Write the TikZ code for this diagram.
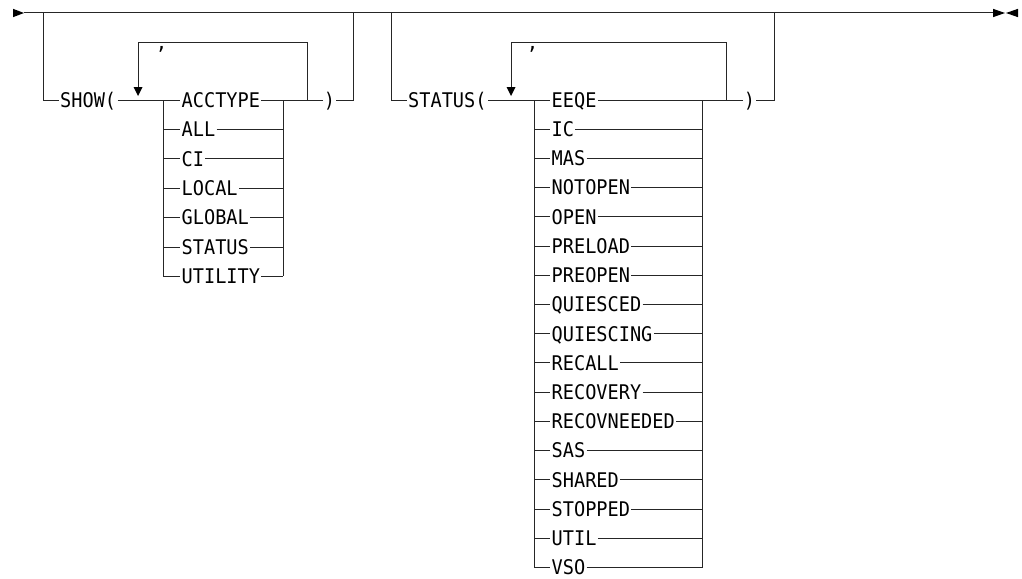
\documentclass[tikz,border=0pt]{standalone}
\usepackage{fontspec}
\newfontfamily\rrfont[FakeStretch=0.92]{DejaVu Sans Mono}
\begin{document}
\begin{tikzpicture}[x=1pt,y=-1pt,
  rail/.style={draw=black!85, line width=1pt},
  tip/.style={fill=black},
  kw/.style={anchor=west, inner xsep=1.2pt, inner ysep=0pt, text height=14.6pt, text depth=0pt,
             font=\rrfont\fontsize{20.2}{20.2}\selectfont},
  punct/.style={anchor=base, inner sep=0pt, font=\rrfont\fontsize{20.6}{20.6}\selectfont}]
\useasboundingbox (0,0) rectangle (1022,578);
% main line
\coordinate (start) at (24,13);
\coordinate (finish) at (993,13);
\fill[tip] (start) -- ++(-11,-4.2) -- ++(0,8.4) -- cycle;
\fill[tip] (finish) ++(0,-4.2) -- ++(12,4.2) -- ++(-12,4.2) -- cycle;
\fill[tip] (1018,8.8) -- (1006,13) -- (1018,17.2) -- cycle;
\draw[rail] (start) -- (finish);

% ---------- SHOW branch ----------
\coordinate (b1top) at (43,13);
\node[kw] (show) at (58.8,100) {SHOW(};
\draw[rail] (b1top) |- (show.west);
\coordinate (aL) at (163,100);
\coordinate (aR) at (283,100);
\coordinate (aJ) at (307,100);
\coordinate (aA) at (138,100);
\draw[rail] (show.east) -- (aL);
\foreach \t [count=\i from 0] in {ACCTYPE,ALL,CI,LOCAL,GLOBAL,STATUS,UTILITY} {
  \coordinate (aL\i) at (163,{100+29.4*\i});
  \coordinate (aR\i) at (283,{100+29.4*\i});
  \node[kw] (a\i) at (180.3,{100+29.4*\i}) {\t};
  \draw[rail] (aL\i) -- (a\i.west);
  \draw[rail] (a\i.east) -- (aR\i);
}
\draw[rail] (aL) -- (aL6);
\draw[rail] (aR) -- (aR6);
\node[kw] (rp1) at (322.5,100) {)};
\draw[rail] (aR) -- (rp1.west);
\coordinate (b1end) at (353,13);
\draw[rail] (rp1.east) -| (b1end);
% repeat loop
\draw[rail] (aJ) -- (307,43) -- (138,43) -- (138,89);
\fill[tip] (aA) ++(0,-4) -- ++(-4.5,-9) -- ++(9,0) -- cycle;
\node[punct] (c1) at (161.5,50) {,};

% ---------- STATUS branch ----------
\coordinate (b2top) at (391,13);
\node[kw] (status) at (406.8,100) {STATUS(};
\draw[rail] (b2top) |- (status.west);
\coordinate (sL) at (534,100);
\coordinate (sR) at (702,100);
\coordinate (sJ) at (726,100);
\coordinate (sA) at (511,100);
\draw[rail] (status.east) -- (sL);
\foreach \t [count=\i from 0] in {EEQE,IC,MAS,NOTOPEN,OPEN,PRELOAD,PREOPEN,QUIESCED,QUIESCING,RECALL,RECOVERY,RECOVNEEDED,SAS,SHARED,STOPPED,UTIL,VSO} {
  \coordinate (sL\i) at (534,{100+29.22*\i});
  \coordinate (sR\i) at (702,{100+29.22*\i});
  \node[kw] (s\i) at (550.3,{100+29.22*\i}) {\t};
  \draw[rail] (sL\i) -- (s\i.west);
  \draw[rail] (s\i.east) -- (sR\i);
}
\draw[rail] (sL) -- (sL16);
\draw[rail] (sR) -- (sR16);
\node[kw] (rp2) at (742.5,100) {)};
\draw[rail] (sR) -- (rp2.west);
\coordinate (b2end) at (774,13);
\draw[rail] (rp2.east) -| (b2end);
% repeat loop
\draw[rail] (sJ) -- (726,43) -- (511,43) -- (511,89);
\fill[tip] (sA) ++(0,-4) -- ++(-4.5,-9) -- ++(9,0) -- cycle;
\node[punct] (c2) at (532.5,50) {,};
\end{tikzpicture}
\end{document}
